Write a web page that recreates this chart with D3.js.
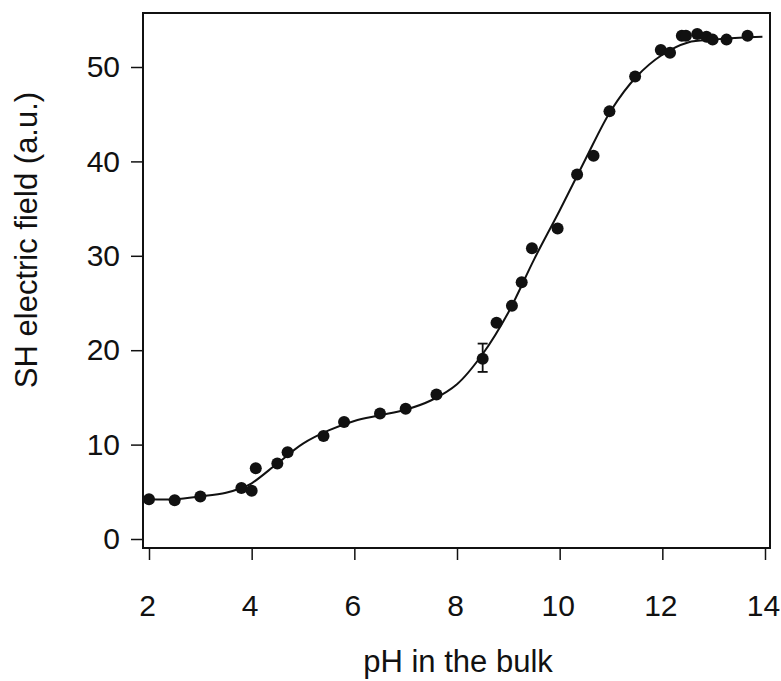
<!DOCTYPE html>
<html>
<head>
<meta charset="utf-8">
<script src="https://cdn.jsdelivr.net/npm/d3@7"></script>
<style>
  html, body { margin: 0; padding: 0; background: #fff; }
  svg { display: block; }
  text { font-family: "Liberation Sans", Arial, Helvetica, sans-serif; fill: #111; }
</style>
</head>
<body>
<svg id="chart" width="781" height="681"></svg>
<script>
// Measured SH field versus bulk pH
const phValues    = [2.0, 2.5, 3.0, 3.8, 4.0, 4.08, 4.5, 4.7, 5.4, 5.8, 6.5, 7.0, 7.6, 8.5,
                     8.77, 9.07, 9.26, 9.46, 9.96, 10.34, 10.66, 10.97, 11.47, 11.97, 12.15,
                     12.38, 12.46, 12.68, 12.86, 12.98, 13.25, 13.66];
const fieldValues = [4.2, 4.1, 4.5, 5.4, 5.1, 7.5, 8.0, 9.2, 10.9, 12.4, 13.3, 13.8, 15.3, 19.1,
                     22.9, 24.7, 27.2, 30.8, 32.9, 38.6, 40.6, 45.3, 49.0, 51.8, 51.5,
                     53.3, 53.3, 53.5, 53.2, 52.9, 52.9, 53.3];

// Error bar on the pH 8.5 measurement
const errPh   = [8.5];
const errLow  = [17.7];
const errHigh = [20.7];

// Fitted titration curve
const curvePh    = [2.0, 2.5, 3.0, 3.5, 3.8, 4.0, 4.5, 5.0, 5.5, 6.0, 6.5, 7.0, 7.5, 8.0,
                    8.5, 9.0, 9.5, 10.0, 10.5, 11.0, 11.5, 12.0, 12.5, 13.0, 13.5, 13.95];
const curveField = [4.2, 4.2, 4.5, 4.9, 5.4, 5.9, 8.0, 10.1, 11.5, 12.5, 13.1, 13.7, 14.7, 16.4,
                    19.6, 24.0, 29.6, 34.8, 40.2, 45.4, 49.0, 51.3, 52.6, 52.9, 53.1, 53.2];

const xTicks = [2, 4, 6, 8, 10, 12, 14];
const yTicks = [0, 10, 20, 30, 40, 50];

const svg = d3.select("#chart");

const x = d3.scaleLinear().domain([2, 14]).range([149, 765]);
const y = d3.scaleLinear().domain([0, 50]).range([539, 67]);

const frame = { left: 143, right: 770, top: 13, bottom: 548 };
const font = "'Liberation Sans', Arial, sans-serif";

// plot frame
svg.append("rect")
  .attr("x", frame.left).attr("y", frame.top)
  .attr("width", frame.right - frame.left)
  .attr("height", frame.bottom - frame.top)
  .attr("fill", "none").attr("stroke", "#111").attr("stroke-width", 2);

// y axis
const yAxis = svg.append("g")
  .attr("transform", `translate(${frame.left},0)`)
  .call(d3.axisLeft(y).tickValues(yTicks).tickSize(12).tickPadding(11).tickFormat(d3.format("d")));
yAxis.select(".domain").remove();
yAxis.selectAll(".tick line").attr("stroke", "#111").attr("stroke-width", 1.5);
yAxis.selectAll(".tick text").attr("font-size", 30).attr("fill", "#111").style("font-family", font);

// x axis
const xAxis = svg.append("g")
  .attr("transform", `translate(0,${frame.bottom})`)
  .call(d3.axisBottom(x).tickValues(xTicks).tickSize(12).tickPadding(35).tickFormat(d3.format("d")));
xAxis.select(".domain").remove();
xAxis.selectAll(".tick line").attr("stroke", "#111").attr("stroke-width", 1.5);
xAxis.selectAll(".tick text").attr("font-size", 30).attr("fill", "#111").attr("dx", -2)
  .style("font-family", font);

// fitted curve
const curveData = curvePh.map((p, i) => [p, curveField[i]]);
svg.append("path")
  .datum(curveData)
  .attr("fill", "none").attr("stroke", "#111").attr("stroke-width", 2)
  .attr("d", d3.line().x(d => x(d[0])).y(d => y(d[1])).curve(d3.curveCatmullRom.alpha(0.5)));

// error bar
const errData = errPh.map((p, i) => ({ p, lo: errLow[i], hi: errHigh[i] }));
const eb = svg.append("g").attr("stroke", "#111").attr("stroke-width", 1.8);
eb.selectAll("line.v").data(errData).join("line").attr("class", "v")
  .attr("x1", d => x(d.p)).attr("x2", d => x(d.p))
  .attr("y1", d => y(d.lo)).attr("y2", d => y(d.hi));
eb.selectAll("line.top").data(errData).join("line").attr("class", "top")
  .attr("x1", d => x(d.p) - 5).attr("x2", d => x(d.p) + 5)
  .attr("y1", d => y(d.hi)).attr("y2", d => y(d.hi));
eb.selectAll("line.bot").data(errData).join("line").attr("class", "bot")
  .attr("x1", d => x(d.p) - 5).attr("x2", d => x(d.p) + 5)
  .attr("y1", d => y(d.lo)).attr("y2", d => y(d.lo));

// data points
const points = phValues.map((p, i) => [p, fieldValues[i]]);
svg.append("g").selectAll("circle").data(points).join("circle")
  .attr("cx", d => x(d[0])).attr("cy", d => y(d[1]))
  .attr("r", 6).attr("fill", "#111");

// axis titles
svg.append("text")
  .attr("x", 458).attr("y", 672)
  .attr("text-anchor", "middle").attr("font-size", 31)
  .text("pH in the bulk");

svg.append("text")
  .attr("transform", "translate(37,240) rotate(-90)")
  .attr("text-anchor", "middle").attr("font-size", 31)
  .text("SH electric field (a.u.)");
</script>
</body>
</html>
